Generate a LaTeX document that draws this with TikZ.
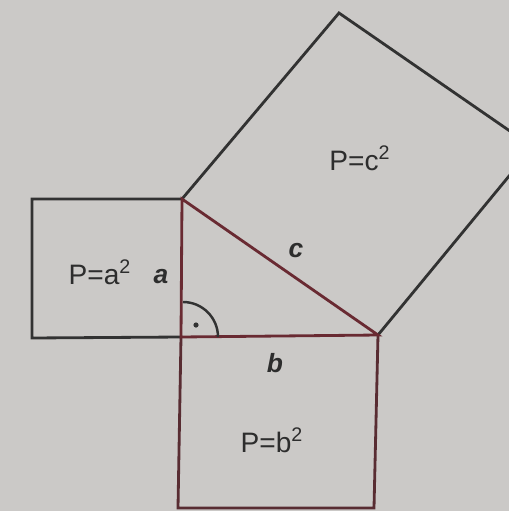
\documentclass[tikz,border=0pt]{standalone}
\usepackage{fontspec}
\setmainfont{Liberation Sans}
\definecolor{bg}{RGB}{203,201,199}
\definecolor{sqline}{RGB}{50,50,50}
\definecolor{triline}{RGB}{105,42,50}
\definecolor{bline}{RGB}{88,44,50}
\definecolor{txt}{RGB}{45,45,45}
\begin{document}
\begin{tikzpicture}[x=0.02cm,y=-0.02cm,
  sq/.style={draw=sqline,line width=1.6pt,line join=miter},
  tri/.style={draw=triline,line width=1.6pt},
  bsq/.style={draw=bline,line width=1.6pt},
  area/.style={text=txt,font=\fontsize{16}{18}\selectfont,inner sep=0pt},
  side/.style={text=txt,font=\fontsize{15}{17}\selectfont\bfseries\itshape,inner sep=0pt}]
\fill[bg] (0,0) rectangle (509,511);
\useasboundingbox (0,0) rectangle (509,511);
\begin{scope}
\clip (0,0) rectangle (509,511);
\coordinate (C) at (181,337);
\coordinate (A) at (182,199);
\coordinate (B) at (378,335);
\coordinate (La) at (32,199);
\coordinate (Lb) at (32,338);
\coordinate (Bl) at (178,508);
\coordinate (Br) at (374,508);
\coordinate (T) at (339,13);
\coordinate (R) at (533,147);
% square a
\draw[sq] (A) -- (La) -- (Lb) -- (C);
% square b
\draw[bsq] (C) -- (Bl) -- (Br) -- (B);
% square c
\draw[sq] (A) -- (T) -- (R) -- (B);
% triangle
\draw[tri] (A) -- (C) -- (B) -- cycle;
% right angle mark
\draw[draw=sqline,line width=1.4pt] ([shift={(37,0)}]C) arc[start angle=0,end angle=-90,radius=35];
\fill[sqline] (196,325) circle[radius=2.6];
\end{scope}
\node[area] (pa) at (100,272) {P=a\textsuperscript{2}};
\node[area] (pb) at (272,440) {P=b\textsuperscript{2}};
\node[area] (pc) at (360,158) {P=c\textsuperscript{2}};
\node[side] (la) at (161,277) {a};
\node[side] (lb) at (275,363) {b};
\node[side] (lc) at (296,251) {c};
\end{tikzpicture}
\end{document}
